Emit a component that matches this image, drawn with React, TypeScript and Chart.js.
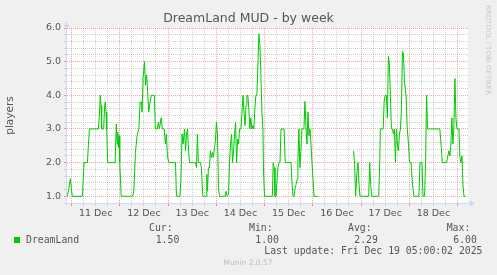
import React, { useEffect, useRef } from 'react';
import { Chart, registerables } from 'chart.js';

Chart.register(...registerables);

// Time in hours since 11 Dec 00:00, players count (30-min averages)
const hours = [
  -2.1, -1.4, -0.6, -0.1, 0.4, 5.4, 6.2, 7.9, 8.9, 13.3, 13.8, 14.3, 14.7, 15.0, 16.0, 16.5, 16.8, 17.2, 17.5, 18.0,
  21.7, 22.3, 22.7, 23.0, 23.3, 23.7, 24.0, 24.7, 30.3, 31.0, 31.8, 32.6, 33.5, 34.1, 34.8, 35.1, 35.6, 36.3, 36.8, 37.3,
  37.7, 38.4, 39.1, 39.7, 41.2, 41.7, 42.7, 43.2, 43.7, 44.6, 45.2, 46.1, 46.7, 47.2, 47.7, 48.4, 51.7, 52.2, 53.9, 54.4,
  55.0, 55.5, 56.2, 56.7, 57.2, 57.7, 58.2, 58.7, 61.7, 62.2, 62.6, 63.1, 64.1, 64.6, 65.3, 67.0, 67.3, 67.6, 68.1, 68.6,
  69.1, 69.6, 70.1, 70.6, 71.1, 71.6, 72.1, 72.6, 73.1, 73.6, 76.4, 76.9, 77.4, 78.1, 78.6, 79.1, 79.6, 80.1, 80.6, 81.1,
  81.6, 82.1, 82.6, 83.1, 83.6, 84.3, 84.8, 85.3, 85.8, 86.3, 86.8, 87.2, 87.7, 88.2, 88.7, 89.2, 89.7, 90.2, 90.7, 91.2,
  91.7, 92.2, 92.7, 93.2, 93.7, 94.2, 94.7, 95.2, 95.5, 96.0, 99.9, 100.3, 100.8, 101.2, 101.7, 102.2, 102.7, 103.2, 103.7, 104.2,
  105.7, 106.3, 109.2, 109.7, 110.2, 110.7, 111.2, 111.7, 112.2, 112.6, 113.1, 113.6, 114.1, 114.6, 115.6, 116.1, 116.6, 117.1, 117.6, 118.1,
  118.6, 119.1, 119.6, 120.1, 120.6, 122.7, 131.0, 140.3, 140.8, 141.3, 142.0, 142.5, 143.0, 143.5, 147.8, 148.3, 148.8, 149.3, 152.8, 153.3,
  153.6, 155.0, 155.5, 156.0, 156.6, 157.1, 157.6, 158.1, 158.6, 159.1, 159.6, 160.1, 160.6, 161.1, 161.6, 162.1, 162.6, 163.1, 163.6, 164.1,
  164.6, 165.1, 165.6, 166.4, 166.9, 167.6, 168.1, 168.9, 169.6, 170.3, 172.8, 173.3, 174.3, 174.8, 175.6, 176.1, 176.6, 177.1, 183.2, 183.9,
  184.4, 186.5, 187.2, 187.7, 188.2, 188.7, 189.2, 189.7, 190.2, 190.7, 191.2, 191.7, 192.7, 193.2, 193.7, 194.2, 194.7, 195.2, 196.0,
];

const players: (number | null)[] = [
  1.0, 1.2, 1.52, 1.25, 1.0, 1.0, 2.0, 2.0, 3.0, 3.0, 3.33, 4.0, 3.7, 3.0, 3.0, 3.7, 3.8, 3.5, 3.0, 2.0,
  2.0, 3.15, 2.55, 2.9, 2.45, 2.8, 2.0, 1.0, 1.0, 1.15, 2.3, 2.8, 3.0, 3.8, 3.8, 3.5, 4.5, 5.0, 4.3, 4.6,
  4.3, 3.5, 3.8, 4.0, 4.0, 3.0, 3.0, 3.2, 3.0, 3.33, 3.0, 3.0, 2.55, 2.85, 2.2, 2.0, 2.0, 1.0, 1.0, 1.45,
  2.85, 2.55, 3.0, 2.35, 2.85, 3.0, 2.35, 2.0, 2.0, 1.85, 2.85, 2.0, 2.0, 1.85, 1.0, 1.0, 1.65, 1.15, 1.85, 1.85,
  2.35, 2.15, 2.3, 2.15, 2.45, 2.65, 3.2, 2.85, 1.25, 1.0, 1.0, 1.15, 1.0, 1.05, 2.0, 2.55, 2.85, 2.0, 2.35, 2.85,
  3.2, 2.0, 2.7, 2.55, 3.0, 3.0, 3.5, 4.0, 3.5, 3.1, 3.7, 4.0, 4.0, 3.6, 3.0, 3.33, 3.0, 3.1, 3.0, 3.6,
  4.0, 4.0, 4.9, 5.82, 5.5, 4.6, 3.5, 3.0, 1.75, 1.0, 1.0, 2.0, 1.85, 1.0, 1.0, 1.45, 1.85, 2.0, 2.0, 3.0,
  3.0, 2.0, 2.0, 1.35, 1.0, 1.0, 1.25, 1.35, 1.5, 2.0, 3.0, 1.85, 2.35, 3.0, 3.0, 3.82, 3.1, 2.55, 3.5, 2.8,
  3.0, 2.55, 2.0, 1.55, 1.0, 1.0, null, 2.35, 1.95, 1.0, 1.75, 2.0, 1.35, 1.0, 1.0, 2.0, 1.35, 1.0, 1.0, 2.0,
  3.0, 3.0, 3.82, 4.0, 4.0, 3.33, 5.16, 4.95, 4.0, 3.0, 3.0, 2.85, 3.0, 2.0, 3.0, 2.55, 2.35, 2.85, 3.0, 3.6,
  5.3, 5.25, 4.4, 4.0, 3.1, 2.55, 2.0, 2.0, 1.35, 1.0, 1.0, 2.0, 2.0, 1.0, 1.0, 2.0, 4.0, 3.0, 3.0, 2.45,
  2.0, 2.0, 2.2, 2.35, 2.2, 2.55, 3.33, 2.55, 3.1, 4.5, 3.33, 3.0, 3.0, 2.15, 2.0, 2.2, 1.35, 1.0, 1.0,
];

const dayLabels = ['11 Dec', '12 Dec', '13 Dec', '14 Dec', '15 Dec', '16 Dec', '17 Dec', '18 Dec'];
const dayNoonHours = [12, 36, 60, 84, 108, 132, 156, 180];
const yLabelValues = [1, 2, 3, 4, 5, 6];

const titleText = 'DreamLand MUD - by week';
const yAxisTitle = 'players';
const seriesName = 'DreamLand';
const statHeaders = ['Cur:', 'Min:', 'Avg:', 'Max:'];
const statValues = ['1.50', '1.00', '2.29', '6.00'];
const lastUpdate = 'Last update: Fri Dec 19 05:00:02 2025';
const footer = 'Munin 2.0.57';
const watermark = 'RRDTOOL / TOBI OETIKER';

const X_MIN = -2.24;
const X_MAX = 197.2;
const Y_MIN = 0.8;
const Y_MAX = 6.0;

const LINE = '#00CC00';
const AXIS = '#CFD6F8';
const MAJOR = 'rgba(222,79,79,0.5)';
const MINOR = 'rgba(143,143,143,0.42)';
const FONT_COL = '#555555';

const xGrid: number[] = [];
for (let h = 0; h <= 192; h += 6) xGrid.push(h);
const yGrid: number[] = [];
for (let i = 0; i <= 26; i++) yGrid.push((8 + 2 * i) / 10);

const isInt = (v: number) => Math.abs(v - Math.round(v)) < 1e-6;

const muninPlugin = {
  id: 'muninDecor',
  beforeDraw(chart: any) {
    const { ctx, chartArea: a, width, height } = chart;
    ctx.save();
    ctx.fillStyle = '#F0F0F0';
    ctx.fillRect(0, 0, width, height);
    ctx.fillStyle = '#FFFFFF';
    ctx.fillRect(a.left, a.top, a.right - a.left, a.bottom - a.top);
    ctx.restore();
  },
  afterDraw(chart: any) {
    const { ctx, chartArea: a } = chart;
    ctx.save();
    // axes with arrows
    ctx.strokeStyle = AXIS;
    ctx.fillStyle = AXIS;
    ctx.lineWidth = 1;
    ctx.beginPath();
    ctx.moveTo(a.left - 2, a.bottom + 0.5);
    ctx.lineTo(a.right + 3, a.bottom + 0.5);
    ctx.stroke();
    ctx.beginPath();
    ctx.moveTo(a.right + 2, a.bottom - 2.5);
    ctx.lineTo(a.right + 7, a.bottom + 0.5);
    ctx.lineTo(a.right + 2, a.bottom + 3.5);
    ctx.closePath();
    ctx.fill();
    ctx.beginPath();
    ctx.moveTo(a.left - 0.5, a.bottom + 3);
    ctx.lineTo(a.left - 0.5, a.top - 2);
    ctx.stroke();
    ctx.beginPath();
    ctx.moveTo(a.left - 3.5, a.top - 1);
    ctx.lineTo(a.left - 0.5, a.top - 6);
    ctx.lineTo(a.left + 2.5, a.top - 1);
    ctx.closePath();
    ctx.fill();

    const text = (s: string, x: number, y: number, font: string, color: string, align: CanvasTextAlign = 'left') => {
      ctx.font = font;
      ctx.fillStyle = color;
      ctx.textAlign = align;
      ctx.textBaseline = 'middle';
      ctx.fillText(s, x, y);
    };

    // title
    text(titleText, 248.5, 19, '12.5px "DejaVu Sans"', FONT_COL, 'center');

    // y-axis title
    ctx.save();
    ctx.translate(10, (a.top + a.bottom) / 2);
    ctx.rotate(-Math.PI / 2);
    text(yAxisTitle, 0, 0, '10.5px "DejaVu Sans"', FONT_COL, 'center');
    ctx.restore();

    // watermark
    ctx.save();
    ctx.translate(487.5, 5);
    ctx.rotate(Math.PI / 2);
    text(watermark, 0, 0, '7px "DejaVu Sans"', '#C8C8C8', 'left');
    ctx.restore();

    // legend
    const mono = '9.8px "DejaVu Sans Mono"';
    ctx.fillStyle = LINE;
    ctx.fillRect(14, 237, 6, 6);
    text(seriesName, 26, 240, mono, FONT_COL);
    const headX = [149, 249, 348, 446.7];
    const valX = [155.7, 255.3, 354.3, 453.3];
    statHeaders.forEach((h, i) => text(h, headX[i], 228, mono, FONT_COL));
    statValues.forEach((v, i) => text(v, valX[i], 240, mono, FONT_COL));
    text(lastUpdate, 482.5, 251.5, mono, FONT_COL, 'right');
    text(footer, 248, 263, '7.5px "DejaVu Sans"', '#BBBBBB', 'center');
    ctx.restore();
  },
};

export default function App() {
  const ref = useRef<HTMLCanvasElement | null>(null);

  useEffect(() => {
    document.body.style.margin = '0';
    document.body.style.background = '#F0F0F0';
    const canvas = ref.current;
    if (!canvas) return;
    const points = hours.map((h, i) => ({ x: h, y: players[i] }));
    const chart = new Chart(canvas, {
      type: 'line',
      data: {
        datasets: [
          {
            label: seriesName,
            data: points as any,
            borderColor: LINE,
            borderWidth: 1,
            pointRadius: 0,
            tension: 0,
            fill: false,
            spanGaps: false,
          },
        ],
      },
      options: {
        animation: false,
        responsive: false,
        devicePixelRatio: 1,
        events: [],
        layout: { padding: { left: 0, right: 29, top: 28, bottom: 0 } },
        plugins: {
          legend: { display: false },
          title: { display: false },
          tooltip: { enabled: false },
        },
        scales: {
          x: {
            type: 'linear',
            min: X_MIN,
            max: X_MAX,
            afterBuildTicks: (s: any) => {
              s.ticks = xGrid.map((v) => ({ value: v }));
            },
            afterFit: (s: any) => {
              s.height = 72;
              s.paddingLeft = 0;
              s.paddingRight = 0;
            },
            ticks: {
              autoSkip: false,
              maxRotation: 0,
              minRotation: 0,
              padding: 2,
              color: FONT_COL,
              font: { family: 'DejaVu Sans', size: 9.5 },
              callback: (v: any) => {
                const i = dayNoonHours.indexOf(Number(v));
                return i >= 0 ? dayLabels[i] : '';
              },
            },
            grid: {
              color: (c: any) => (c.tick && c.tick.value % 24 === 0 ? MAJOR : MINOR),
              lineWidth: 1,
              drawTicks: true,
              tickLength: 3,
              tickColor: (c: any) => (c.tick && c.tick.value % 24 === 0 ? 'rgba(222,79,79,0.6)' : 'rgba(143,143,143,0.3)'),
            },
            border: { display: false, dash: [1, 1] },
          },
          y: {
            type: 'linear',
            min: Y_MIN,
            max: Y_MAX,
            afterBuildTicks: (s: any) => {
              s.ticks = yGrid.map((v) => ({ value: v }));
            },
            afterFit: (s: any) => {
              s.width = 67;
              s.paddingTop = 0;
              s.paddingBottom = 0;
            },
            ticks: {
              autoSkip: false,
              padding: 3,
              color: FONT_COL,
              font: { family: 'DejaVu Sans', size: 9.5 },
              callback: (v: any) => {
                const n = Number(v);
                return yLabelValues.some((y) => Math.abs(y - n) < 1e-6) ? n.toFixed(1) : '';
              },
            },
            grid: {
              color: (c: any) => (c.tick && isInt(c.tick.value) ? MAJOR : MINOR),
              lineWidth: 1,
              drawTicks: true,
              tickLength: 3,
              tickColor: (c: any) => (c.tick && isInt(c.tick.value) ? 'rgba(222,79,79,0.6)' : 'rgba(143,143,143,0.3)'),
            },
            border: { display: false, dash: [1, 1] },
          },
        },
      },
      plugins: [muninPlugin],
    });
    return () => chart.destroy();
  }, []);

  return <canvas ref={ref} width={497} height={275} style={{ display: 'block', width: 497, height: 275 }} />;
}
